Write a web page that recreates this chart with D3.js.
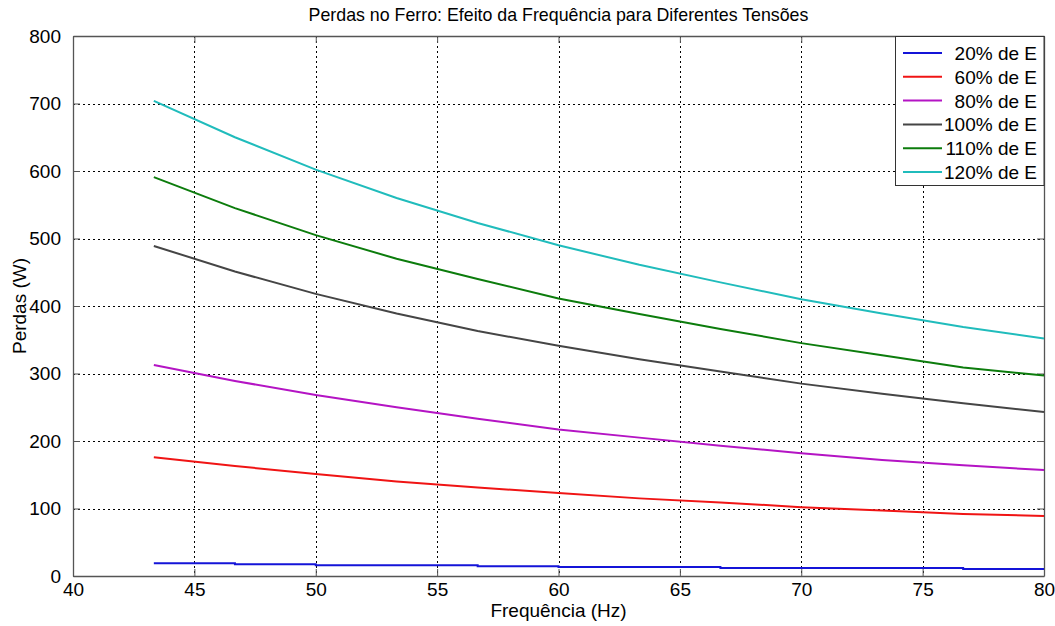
<!DOCTYPE html>
<html><head><meta charset="utf-8">
<script src="https://cdn.jsdelivr.net/npm/d3@7"></script>
<style>
html,body{margin:0;padding:0;background:#fff;}
text{font-family:Arial,"Liberation Sans",Helvetica,sans-serif;fill:#000;}
</style></head>
<body><svg id="c" width="1055" height="626"></svg>
<script>
const title = "Perdas no Ferro: Efeito da Frequência para Diferentes Tensões";
const xLabel = "Frequência (Hz)";
const yLabel = "Perdas (W)";
const xTicks = [40,45,50,55,60,65,70,75,80];
const yTicks = [0,100,200,300,400,500,600,700,800];
const freq = [43.33,46.67,50,53.33,56.67,60,63.33,66.67,70,73.33,76.67,80];
const seriesNames = ["20% de E","60% de E","80% de E","100% de E","110% de E","120% de E"];
const seriesColors = ["#1414d8","#f01414","#b414c4","#454545","#0c7c0c","#20bcbc"];
const v20  = [19,17.5,16,16,14.5,13.3,13.3,12,12,12,10.5,10.5];
const v60  = [176,163,151,140,131,123,115,109,102,97,92,89];
const v80  = [312.6,289,268,250,233,217,205,193,182,172,164,157];
const v100 = [489,451,418,389,363,341,321,303,285,270,256,243];
const v110 = [591,545,505,470,440,411,388,366,345,327,309,297];
const v120 = [704,650,602,560,523,490,461,435,410,389,369,352];
const seriesValues = [v20,v60,v80,v100,v110,v120];

const svg = d3.select("#c");
const L=73, R=1044, T=36, B=576;
const x = d3.scaleLinear().domain([40,80]).range([L,R]);
const y = d3.scaleLinear().domain([0,800]).range([B,T]);

// grid
const g = svg.append("g");
g.selectAll("line.gx").data(xTicks.slice(1,-1)).enter().append("line")
  .attr("x1",d=>Math.round(x(d))+0.5).attr("x2",d=>Math.round(x(d))+0.5)
  .attr("y1",T).attr("y2",B).attr("stroke","#000").attr("stroke-width",1).attr("stroke-dasharray","2,3");
g.selectAll("line.gy").data(yTicks.slice(1,-1)).enter().append("line")
  .attr("y1",d=>Math.round(y(d))+0.5).attr("y2",d=>Math.round(y(d))+0.5)
  .attr("x1",L).attr("x2",R).attr("stroke","#000").attr("stroke-width",1).attr("stroke-dasharray","2,3");

// axes (inward ticks on all four sides)
const axB = d3.axisBottom(x).tickValues(xTicks).tickSizeInner(-7).tickSizeOuter(0).tickPadding(7);
const axT = d3.axisTop(x).tickValues(xTicks).tickSizeInner(-7).tickSizeOuter(0).tickFormat("");
const axL = d3.axisLeft(y).tickValues(yTicks).tickSizeInner(-7).tickSizeOuter(0).tickPadding(12);
const axR = d3.axisRight(y).tickValues(yTicks).tickSizeInner(-7).tickSizeOuter(0).tickFormat("");
function style(sel){
  sel.selectAll("path").attr("stroke","#555").attr("stroke-width",1.3);
  sel.selectAll("line").attr("stroke","#555");
  sel.selectAll("text").attr("font-size",19).attr("font-family","Arial, 'Liberation Sans', sans-serif").attr("fill","#000");
}
svg.append("g").attr("transform",`translate(0,${B})`).call(axB).call(style);
svg.append("g").attr("transform",`translate(0,${T})`).call(axT).call(style);
svg.append("g").attr("transform",`translate(${L},0)`).call(axL).call(style);
svg.append("g").attr("transform",`translate(${R},0)`).call(axR).call(style);

// lines
const line = d3.line().x((d,i)=>x(freq[i])).y(d=>y(d));
const lineStep = d3.line().x((d,i)=>x(freq[i])).y(d=>y(d)).curve(d3.curveStepAfter);
seriesValues.forEach((vals,k)=>{
  svg.append("path").datum(vals)
    .attr("d", k===0 ? lineStep : line)
    .attr("fill","none").attr("stroke",seriesColors[k]).attr("stroke-width",2);
});

// title & labels
svg.append("text").attr("x",(L+R)/2).attr("y",21).attr("text-anchor","middle").attr("font-size",17.8).text(title);
svg.append("text").attr("x",(L+R)/2).attr("y",617).attr("text-anchor","middle").attr("font-size",19).text(xLabel);
svg.append("text").attr("transform",`translate(26,${(T+B)/2}) rotate(-90)`).attr("text-anchor","middle").attr("font-size",19).text(yLabel);

// legend
const lg = svg.append("g");
lg.append("rect").attr("x",895.5).attr("y",T+0.5).attr("width",R-895.5).attr("height",149)
  .attr("fill","#fff").attr("stroke","#333").attr("stroke-width",1);
seriesNames.forEach((n,k)=>{
  const cy = 53 + k*23.8;
  lg.append("line").attr("x1",903).attr("x2",942).attr("y1",cy).attr("y2",cy)
    .attr("stroke",seriesColors[k]).attr("stroke-width",2);
  lg.append("text").attr("x",1037).attr("y",cy+7).attr("text-anchor","end").attr("font-size",19).text(n);
});
</script></body></html>
